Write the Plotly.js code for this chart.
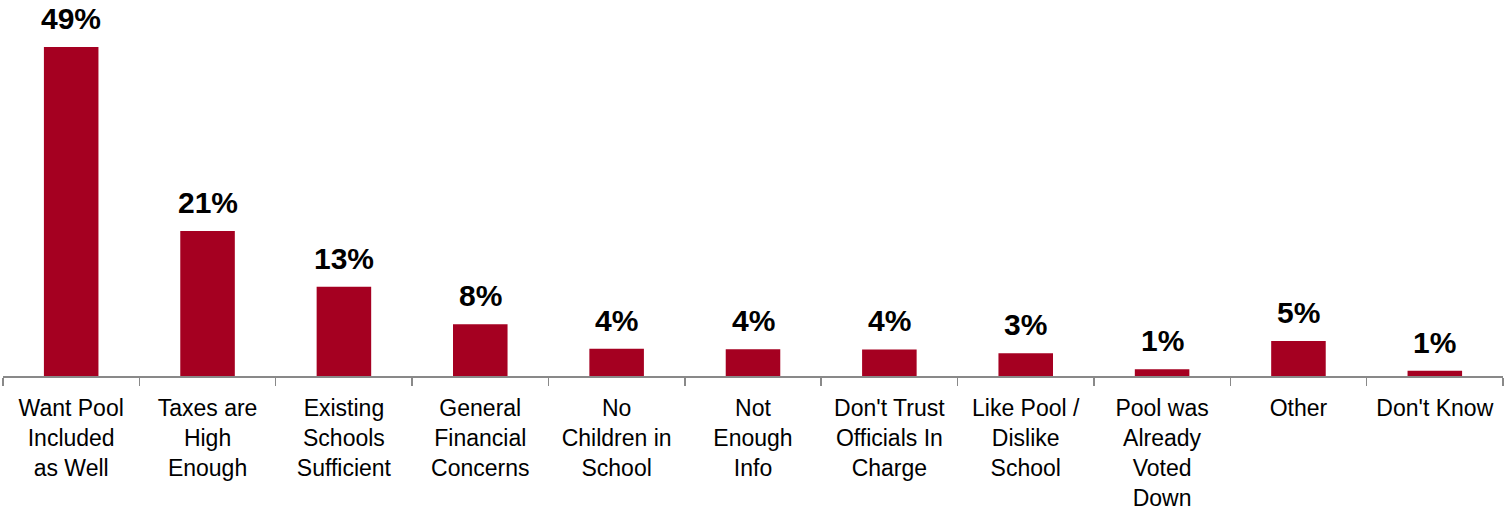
<!DOCTYPE html>
<html>
<head>
<meta charset="utf-8">
<script src="https://cdn.plot.ly/plotly-3.0.1.min.js"></script>
<style>html,body{margin:0;padding:0;background:#fff;}#chart{width:1505px;height:510px;}</style>
</head>
<body>
<div id="chart"></div>
<script>
var categories = [
  "Want Pool<br>Included<br>as Well",
  "Taxes are<br>High<br>Enough",
  "Existing<br>Schools<br>Sufficient",
  "General<br>Financial<br>Concerns",
  "No<br>Children in<br>School",
  "Not<br>Enough<br>Info",
  "Don't Trust<br>Officials In<br>Charge",
  "Like Pool /<br>Dislike<br>School",
  "Pool was<br>Already<br>Voted<br>Down",
  "Other",
  "Don't Know"
];
var values = [49, 21.6, 13.3, 7.7, 4.05, 4.0, 3.95, 3.4, 1.0, 5.2, 0.8];
var valueLabels = ["49%", "21%", "13%", "8%", "4%", "4%", "4%", "3%", "1%", "5%", "1%"];

var annotations = categories.map(function (c, i) {
  return {
    x: c, y: values[i], xref: "x", yref: "y",
    text: "<b>" + valueLabels[i] + "</b>",
    showarrow: false, yanchor: "bottom", yshift: 10,
    font: {family: "Liberation Sans, Arial, sans-serif", size: 30, color: "#000"}
  };
});

Plotly.newPlot("chart", [{
  type: "bar",
  x: categories,
  y: values,
  marker: {color: "#A50021"},
  hoverinfo: "skip"
}], {
  width: 1505, height: 510,
  margin: {l: 3, r: 2, t: 0, b: 134},
  paper_bgcolor: "#fff", plot_bgcolor: "#fff",
  bargap: 0.6,
  showlegend: false,
  xaxis: {
    type: "category",
    showline: true, linecolor: "#898989", linewidth: 1.5,
    ticks: "outside", tickson: "boundaries", ticklen: 8, tickcolor: "#898989", tickwidth: 1.5,
    showgrid: false, zeroline: false,
    tickangle: 0,
    ticklabelstandoff: 11,
    tickfont: {family: "Liberation Sans, Arial, sans-serif", size: 23, color: "#000"}
  },
  yaxis: {
    range: [0, 56], visible: false, showgrid: false, zeroline: false, fixedrange: true
  },
  annotations: annotations
}, {staticPlot: true});
</script>
</body>
</html>
